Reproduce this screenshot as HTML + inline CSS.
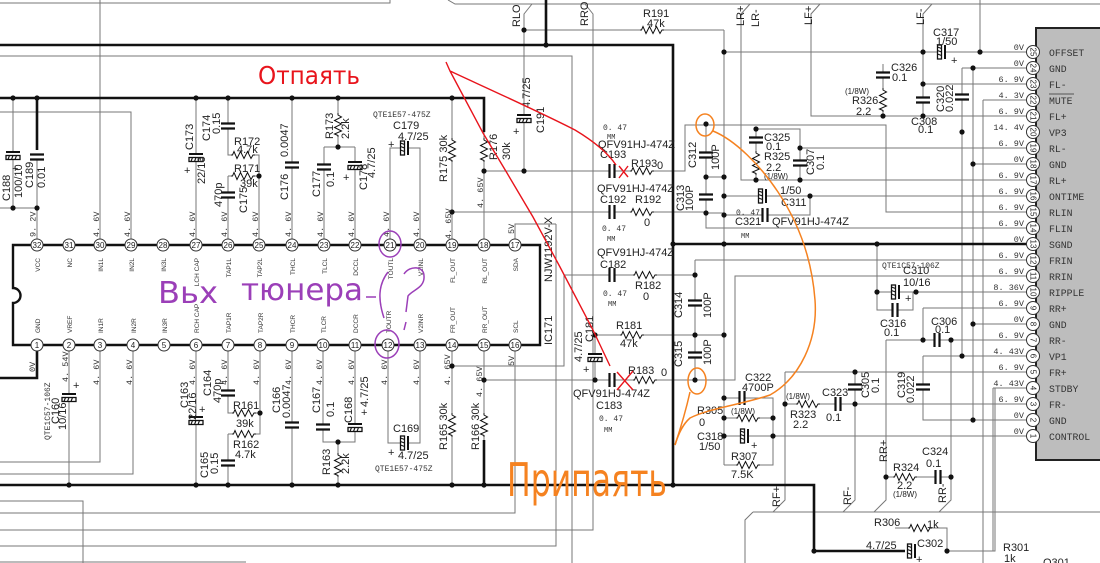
<!DOCTYPE html>
<html><head><meta charset="utf-8">
<style>
html,body{margin:0;padding:0;background:#fff;}
svg{display:block;}
.w{stroke:#777;stroke-width:1;fill:none}
.k{stroke:#111;stroke-width:2.6;fill:none}
.l{font:11px "Liberation Sans",sans-serif;fill:#222}
.m{font:8.5px "Liberation Mono",monospace;fill:#333}
.s{font:8px "Liberation Mono",monospace;fill:#333}
.p{font:6.5px "Liberation Sans",sans-serif;fill:#333}
.n{font:8px "Liberation Sans",sans-serif;fill:#222;text-anchor:middle}
.g{font:9.8px "Liberation Mono",monospace;fill:#333}
.v{font:8.5px "Liberation Mono",monospace;fill:#333;text-anchor:end}
.h{font-family:"DejaVu Sans ExtraLight","DejaVu Sans",sans-serif}
</style></head><body>
<svg width="1100" height="563" viewBox="0 0 1100 563" xmlns="http://www.w3.org/2000/svg">
<defs>
<g id="cv"><rect x="-8" y="-3" width="16" height="6" fill="#fff"/><path d="M-7 -2.5H7M-7 2.5H7" stroke="#111" stroke-width="2.2"/></g>
<g id="ev"><rect x="-8" y="-4" width="16" height="9" fill="#fff"/><path d="M-7 -3H7" stroke="#111" stroke-width="2"/><rect x="-7" y="0.5" width="14" height="4" fill="#fff" stroke="#111" stroke-width="1.3"/><path d="M-5 4.5L-3.5 0.5M-1.5 4.5L0 0.5M2 4.5L3.5 0.5" stroke="#111" stroke-width="1.1"/></g>
<g id="rv"><rect x="-4" y="-12" width="8" height="24" fill="#fff"/><polyline points="0,-12 0,-10 3.5,-8 -3.5,-4.5 3.5,-1 -3.5,2.5 3.5,6 -3.5,9 0,10.5 0,12" fill="none" stroke="#111" stroke-width="1"/></g>
<circle id="d" r="2.6" fill="#111"/>
</defs>
<rect width="1100" height="563" fill="#fff"/>

<path class="w" d="M0 3H390V0M448 0L455 4H1100M0 56H572V563M0 112H131V239M100 0V239M0 208H37M37 160V239M13 98V208
M196 98V239M228 98V155H259V239M228 176H259M228 176V239M292 98V239M338 98V147M324 147H355M324 147V239M355 147V239
M390 239V148H420V239M452 98V239M484 130V239M484 171H685V125H886V212H1027M532 4L524 14V171M524 30H724M724 30V465
M452 212H706M706 124V228H1027M706 177H724M706 213H724M724 196H1027M724 215H810V196M756 129H800V180M756 129V180
M750 4L741 14V180H1027M800 148H1027M820 4L811 14V116H1027M932 4L923 14V116M724 52H1027M923 84H1027M883 64V116
M980 0V52M962 68H1027M962 68V356M973 68V420M983 100H1027M983 100V563M973 164H1027M993 388H1027M993 388V551
M695 260V380M695 260H1027M452 366H564V275H695M484 380H695M695 380H735V276H1027M595 335V380M595 335H724
M877 244V310H913V292M877 292H1027M923 308H1027M923 308V340M886 340H1027M973 324H1027M923 356H1027M923 356V420H1027
M785 372H1027M785 372V500L773 512M855 372V500L843 512M886 340V500L874 512M951 340V500L939 512M785 404H1027
M724 398H773V436M724 418H773M724 436H1027M724 465H773V436M753 512H1100M753 512L745 520V563M886 477H951
M895 528H947V551M947 551H995V388M0 501H83V563M515 351V513H0M0 530H593V14L585 4M556 224V546H0M515 239V224H556M0 562H246
M69 351V485M100 351V462H0M133 351V474H0M196 351V485M228 351V413H260M260 351V434H228M228 434V485M292 351V485
M323 351V442H355V351M338 442V485M388 351V443H420V351M452 351V485M484 351V440"/>

<path class="k" d="M0 45H673V485M546 0V45M0 98H484V132M0 485H814V551H905M673 244H1027M37 98V150M37 351V378H0M484 440V485"/>

<path d="M13 245H540V345H13V303A7.5 7.5 0 0 0 13 288Z" fill="none" stroke="#111" stroke-width="2.4"/>

<rect x="1036" y="28" width="66" height="432" fill="#bdbdbd" stroke="#222" stroke-width="2"/>

<use href="#ev" transform="translate(13 155)"/>
<use href="#cv" transform="translate(37 157)"/>
<use href="#ev" transform="translate(196 157)"/>
<use href="#cv" transform="translate(228 126)"/>
<use href="#rv" transform="translate(243 155) rotate(90)"/>
<use href="#rv" transform="translate(243 176) rotate(90)"/>
<use href="#cv" transform="translate(228 195)"/>
<use href="#cv" transform="translate(292 165)"/>
<use href="#rv" transform="translate(338 125)"/>
<use href="#cv" transform="translate(324 167)"/>
<use href="#ev" transform="translate(355 165)"/>
<use href="#ev" transform="translate(405 148) rotate(90)"/>
<use href="#rv" transform="translate(452 150)"/>
<use href="#rv" transform="translate(484 150)"/>
<use href="#ev" transform="translate(524 118)"/>
<use href="#rv" transform="translate(652 30) rotate(90)"/>
<use href="#cv" transform="translate(612 171) rotate(90)"/>
<use href="#rv" transform="translate(642 171) rotate(90)"/>
<use href="#cv" transform="translate(612 212) rotate(90)"/>
<use href="#rv" transform="translate(642 212) rotate(90)"/>
<use href="#cv" transform="translate(612 275) rotate(90)"/>
<use href="#rv" transform="translate(645 275) rotate(90)"/>
<use href="#rv" transform="translate(632 335) rotate(90)"/>
<use href="#ev" transform="translate(595 357)"/>
<use href="#cv" transform="translate(612 380) rotate(90)"/>
<use href="#rv" transform="translate(645 380) rotate(90)"/>
<use href="#cv" transform="translate(706 155)"/>
<use href="#cv" transform="translate(706 197)"/>
<use href="#cv" transform="translate(695 303)"/>
<use href="#cv" transform="translate(695 355)"/>
<use href="#cv" transform="translate(756 140)"/>
<use href="#rv" transform="translate(756 163)"/>
<use href="#cv" transform="translate(800 163)"/>
<use href="#ev" transform="translate(763 196) rotate(90)"/>
<use href="#cv" transform="translate(765 215) rotate(90)"/>
<use href="#cv" transform="translate(883 75)"/>
<use href="#rv" transform="translate(883 100)"/>
<use href="#cv" transform="translate(923 100)"/>
<use href="#cv" transform="translate(962 97)"/>
<use href="#ev" transform="translate(942 52) rotate(90)"/>
<use href="#ev" transform="translate(896 292) rotate(90)"/>
<use href="#cv" transform="translate(895 310) rotate(90)"/>
<use href="#cv" transform="translate(937 340) rotate(90)"/>
<use href="#cv" transform="translate(923 387)"/>
<use href="#cv" transform="translate(855 387)"/>
<use href="#rv" transform="translate(808 404) rotate(90)"/>
<use href="#cv" transform="translate(838 404) rotate(90)"/>
<use href="#cv" transform="translate(742 398) rotate(90)"/>
<use href="#rv" transform="translate(748 418) rotate(90)"/>
<use href="#ev" transform="translate(745 436) rotate(90)"/>
<use href="#rv" transform="translate(748 465) rotate(90)"/>
<use href="#rv" transform="translate(905 477) rotate(90)"/>
<use href="#cv" transform="translate(938 477) rotate(90)"/>
<use href="#rv" transform="translate(920 528) rotate(90)"/>
<use href="#ev" transform="translate(912 551) rotate(90)"/>
<use href="#ev" transform="translate(69 397)"/>
<use href="#ev" transform="translate(196 420)"/>
<use href="#cv" transform="translate(228 393)"/>
<use href="#rv" transform="translate(244 413) rotate(90)"/>
<use href="#rv" transform="translate(244 434) rotate(90)"/>
<use href="#cv" transform="translate(228 463)"/>
<use href="#cv" transform="translate(292 425)"/>
<use href="#cv" transform="translate(323 427)"/>
<use href="#ev" transform="translate(355 427)"/>
<use href="#rv" transform="translate(338 465)"/>
<use href="#ev" transform="translate(405 443) rotate(90)"/>
<use href="#rv" transform="translate(452 425)"/>
<use href="#rv" transform="translate(484 425)"/>

<g>
<use href="#d" x="13" y="98"/><use href="#d" x="37" y="98"/><use href="#d" x="13" y="208"/><use href="#d" x="37" y="208"/>
<use href="#d" x="196" y="98"/><use href="#d" x="228" y="98"/><use href="#d" x="292" y="98"/><use href="#d" x="338" y="98"/>
<use href="#d" x="338" y="147"/><use href="#d" x="259" y="176"/><use href="#d" x="452" y="98"/><use href="#d" x="452" y="212"/>
<use href="#d" x="484" y="171"/><use href="#d" x="524" y="171"/><use href="#d" x="524" y="30"/><use href="#d" x="546" y="45"/>
<use href="#d" x="69" y="485"/><use href="#d" x="196" y="485"/><use href="#d" x="228" y="485"/><use href="#d" x="292" y="485"/>
<use href="#d" x="338" y="485"/><use href="#d" x="452" y="485"/><use href="#d" x="484" y="485"/><use href="#d" x="673" y="485"/>
<use href="#d" x="260" y="413"/><use href="#d" x="338" y="442"/><use href="#d" x="452" y="366"/><use href="#d" x="484" y="380"/>
<use href="#d" x="595" y="335"/><use href="#d" x="595" y="380"/><use href="#d" x="695" y="275"/><use href="#d" x="695" y="335"/>
<use href="#d" x="695" y="380"/><use href="#d" x="724" y="335"/><use href="#d" x="724" y="398"/><use href="#d" x="724" y="418"/>
<use href="#d" x="724" y="436"/><use href="#d" x="773" y="418"/><use href="#d" x="773" y="436"/>
<use href="#d" x="706" y="124"/><use href="#d" x="706" y="177"/><use href="#d" x="706" y="213"/><use href="#d" x="724" y="177"/>
<use href="#d" x="724" y="196"/><use href="#d" x="724" y="215"/><use href="#d" x="810" y="196"/><use href="#d" x="724" y="244"/>
<use href="#d" x="673" y="244"/><use href="#d" x="877" y="244"/><use href="#d" x="877" y="292"/><use href="#d" x="916" y="292"/>
<use href="#d" x="724" y="52"/><use href="#d" x="923" y="52"/><use href="#d" x="980" y="52"/><use href="#d" x="923" y="84"/>
<use href="#d" x="923" y="116"/><use href="#d" x="883" y="116"/><use href="#d" x="973" y="68"/><use href="#d" x="962" y="132"/>
<use href="#d" x="973" y="164"/><use href="#d" x="756" y="129"/><use href="#d" x="800" y="148"/><use href="#d" x="756" y="180"/>
<use href="#d" x="800" y="180"/><use href="#d" x="923" y="340"/><use href="#d" x="951" y="340"/><use href="#d" x="962" y="356"/>
<use href="#d" x="973" y="324"/><use href="#d" x="973" y="420"/><use href="#d" x="855" y="372"/><use href="#d" x="855" y="404"/>
<use href="#d" x="785" y="404"/><use href="#d" x="886" y="477"/><use href="#d" x="951" y="477"/><use href="#d" x="814" y="551"/>
<use href="#d" x="947" y="551"/>
</g>

<g fill="#fff" stroke="#333" stroke-width="1">
<circle cx="37" cy="245" r="6"/><circle cx="69" cy="245" r="6"/><circle cx="100" cy="245" r="6"/><circle cx="131" cy="245" r="6"/>
<circle cx="163" cy="245" r="6"/><circle cx="196" cy="245" r="6"/><circle cx="228" cy="245" r="6"/><circle cx="259" cy="245" r="6"/>
<circle cx="292" cy="245" r="6"/><circle cx="324" cy="245" r="6"/><circle cx="355" cy="245" r="6"/><circle cx="390" cy="245" r="6"/>
<circle cx="420" cy="245" r="6"/><circle cx="452" cy="245" r="6"/><circle cx="484" cy="245" r="6"/><circle cx="515" cy="245" r="6"/>
<circle cx="37" cy="345" r="6"/><circle cx="69" cy="345" r="6"/><circle cx="100" cy="345" r="6"/><circle cx="133" cy="345" r="6"/>
<circle cx="164" cy="345" r="6"/><circle cx="196" cy="345" r="6"/><circle cx="228" cy="345" r="6"/><circle cx="260" cy="345" r="6"/>
<circle cx="292" cy="345" r="6"/><circle cx="323" cy="345" r="6"/><circle cx="355" cy="345" r="6"/><circle cx="388" cy="345" r="6"/>
<circle cx="420" cy="345" r="6"/><circle cx="452" cy="345" r="6"/><circle cx="484" cy="345" r="6"/><circle cx="515" cy="345" r="6"/>
</g>
<g class="n">
<text x="37" y="248">32</text><text x="69" y="248">31</text><text x="100" y="248">30</text><text x="131" y="248">29</text>
<text x="163" y="248">28</text><text x="196" y="248">27</text><text x="228" y="248">26</text><text x="259" y="248">25</text>
<text x="292" y="248">24</text><text x="324" y="248">23</text><text x="355" y="248">22</text><text x="390" y="248">21</text>
<text x="420" y="248">20</text><text x="452" y="248">19</text><text x="484" y="248">18</text><text x="515" y="248">17</text>
<text x="37" y="348">1</text><text x="69" y="348">2</text><text x="100" y="348">3</text><text x="133" y="348">4</text>
<text x="164" y="348">5</text><text x="196" y="348">6</text><text x="228" y="348">7</text><text x="260" y="348">8</text>
<text x="292" y="348">9</text><text x="323" y="348">10</text><text x="355" y="348">11</text><text x="388" y="348">12</text>
<text x="420" y="348">13</text><text x="452" y="348">14</text><text x="484" y="348">15</text><text x="515" y="348">16</text>
</g>
<g class="p" text-anchor="end">
<text transform="translate(40 258) rotate(-90)">VCC</text><text transform="translate(72 258) rotate(-90)">NC</text>
<text transform="translate(103 258) rotate(-90)">IN1L</text><text transform="translate(134 258) rotate(-90)">IN2L</text>
<text transform="translate(166 258) rotate(-90)">IN3L</text><text transform="translate(199 258) rotate(-90)">LCH CAP</text>
<text transform="translate(231 258) rotate(-90)">TAP1L</text><text transform="translate(262 258) rotate(-90)">TAP2L</text>
<text transform="translate(295 258) rotate(-90)">THCL</text><text transform="translate(327 258) rotate(-90)">TLCL</text>
<text transform="translate(358 258) rotate(-90)">DCCL</text><text transform="translate(393 258) rotate(-90)">TOUTL</text>
<text transform="translate(423 258) rotate(-90)">V2INL</text><text transform="translate(455 258) rotate(-90)">FL_OUT</text>
<text transform="translate(487 258) rotate(-90)">RL_OUT</text><text transform="translate(518 258) rotate(-90)">SDA</text>
</g>
<g class="p">
<text transform="translate(40 333) rotate(-90)">GND</text><text transform="translate(72 333) rotate(-90)">VREF</text>
<text transform="translate(103 333) rotate(-90)">IN1R</text><text transform="translate(136 333) rotate(-90)">IN2R</text>
<text transform="translate(167 333) rotate(-90)">IN3R</text><text transform="translate(199 333) rotate(-90)">RCH CAP</text>
<text transform="translate(231 333) rotate(-90)">TAP1R</text><text transform="translate(263 333) rotate(-90)">TAP2R</text>
<text transform="translate(295 333) rotate(-90)">THCR</text><text transform="translate(326 333) rotate(-90)">TLCR</text>
<text transform="translate(358 333) rotate(-90)">DCCR</text><text transform="translate(391 333) rotate(-90)">TOUTR</text>
<text transform="translate(423 333) rotate(-90)">V2INR</text><text transform="translate(455 333) rotate(-90)">FR_OUT</text>
<text transform="translate(487 333) rotate(-90)">RR_OUT</text><text transform="translate(518 333) rotate(-90)">SCL</text>
</g>
<text class="l" transform="translate(552 345) rotate(-90)">IC171</text>
<text class="l" transform="translate(552 282) rotate(-90)">NJW1192V-X</text>

<g class="m">
<text transform="translate(35.5 237) rotate(-90)">9. 2V</text>
<text transform="translate(99 237) rotate(-90)">4. 6V</text>
<text transform="translate(130 237) rotate(-90)">4. 6V</text>
<text transform="translate(195 237) rotate(-90)">4. 6V</text>
<text transform="translate(227 237) rotate(-90)">4. 6V</text>
<text transform="translate(258 237) rotate(-90)">4. 6V</text>
<text transform="translate(291 237) rotate(-90)">4. 6V</text>
<text transform="translate(323 237) rotate(-90)">4. 6V</text>
<text transform="translate(354 237) rotate(-90)">4. 6V</text>
<text transform="translate(389 237) rotate(-90)">4. 6V</text>
<text transform="translate(419 237) rotate(-90)">4. 6V</text>
<text transform="translate(451 239) rotate(-90)">4. 65V</text>
<text transform="translate(483 208) rotate(-90)">4. 65V</text>
<text transform="translate(514 234) rotate(-90)">5V</text>
<text transform="translate(35 372) rotate(-90)">0V</text>
<text transform="translate(68 382) rotate(-90)">4. 54V</text>
<text transform="translate(99 385) rotate(-90)">4. 6V</text>
<text transform="translate(132 385) rotate(-90)">4. 6V</text>
<text transform="translate(195 385) rotate(-90)">4. 6V</text>
<text transform="translate(227 385) rotate(-90)">4. 6V</text>
<text transform="translate(259 385) rotate(-90)">4. 6V</text>
<text transform="translate(291 385) rotate(-90)">4. 6V</text>
<text transform="translate(322 385) rotate(-90)">4. 6V</text>
<text transform="translate(354 385) rotate(-90)">4. 6V</text>
<text transform="translate(387 385) rotate(-90)">4. 6V</text>
<text transform="translate(419 385) rotate(-90)">4. 6V</text>
<text transform="translate(450 385) rotate(-90)">4. 65V</text>
<text transform="translate(482 397) rotate(-90)">4. 65V</text>
<text transform="translate(514 366) rotate(-90)">5V</text>
</g>

<g class="l">
<text transform="translate(10 201) rotate(-90)">C188</text>
<text transform="translate(22 198) rotate(-90)">100/10</text>
<text x="12" y="172">+</text>
<text transform="translate(33 188) rotate(-90)">C189</text>
<text transform="translate(45 188) rotate(-90)">0.01</text>
<text transform="translate(193 150) rotate(-90)">C173</text>
<text transform="translate(205 184) rotate(-90)">22/16</text>
<text x="184" y="174">+</text>
<text transform="translate(210 141) rotate(-90)">C174</text>
<text transform="translate(220 134) rotate(-90)">0.15</text>
<text x="234" y="145">R172</text>
<text x="237" y="153">4.7k</text>
<text x="234" y="172">R171</text>
<text x="240" y="187">39k</text>
<text transform="translate(222 207) rotate(-90)">470p</text>
<text transform="translate(247 213) rotate(-90)">C175</text>
<text transform="translate(288 157) rotate(-90)">0.0047</text>
<text transform="translate(288 200) rotate(-90)">C176</text>
<text transform="translate(333 139) rotate(-90)">R173</text>
<text transform="translate(349 139) rotate(-90)">2.2k</text>
<text transform="translate(320 197) rotate(-90)">C177</text>
<text transform="translate(334 187) rotate(-90)">0.1</text>
<text transform="translate(367 190) rotate(-90)">C178</text>
<text transform="translate(375 178) rotate(-90)">4.7/25</text>
<text x="343" y="181">+</text>
<text x="393" y="129">C179</text>
<text x="398" y="140">4.7/25</text>
<text x="388" y="148">+</text>
<text transform="translate(447 182) rotate(-90)">R175 30k</text>
<text transform="translate(497 160) rotate(-90)">R176</text>
<text transform="translate(510 160) rotate(-90)">30k</text>
<text x="513" y="135">+</text>
<text transform="translate(530 108) rotate(-90)">4.7/25</text>
<text transform="translate(544 133) rotate(-90)">C191</text>
<text transform="translate(520 27) rotate(-90)">RLO</text>
<text transform="translate(588 26) rotate(-90)">RRO</text>
<text x="643" y="17">R191</text>
<text x="647" y="27">47k</text>
<text x="598" y="148">QFV91HJ-474Z</text>
<text x="600" y="158">C193</text>
<text x="631" y="167">R193</text>
<text x="657" y="169">0</text>
<text x="597" y="192">QFV91HJ-474Z</text>
<text x="600" y="203">C192</text>
<text x="635" y="203">R192</text>
<text x="644" y="226">0</text>
<text x="597" y="256">QFV91HJ-474Z</text>
<text x="600" y="268">C182</text>
<text x="635" y="289">R182</text>
<text x="643" y="300">0</text>
<text x="616" y="329">R181</text>
<text x="620" y="347">47k</text>
<text transform="translate(582 362) rotate(-90)">4.7/25</text>
<text transform="translate(593 342) rotate(-90)">C181</text>
<text x="583" y="373">+</text>
<text x="628" y="374">R183</text>
<text x="661" y="376">0</text>
<text x="573" y="397">QFV91HJ-474Z</text>
<text x="596" y="409">C183</text>
<text transform="translate(696 168) rotate(-90)">C312</text>
<text transform="translate(719 170) rotate(-90)">100P</text>
<text transform="translate(684 211) rotate(-90)">C313</text>
<text transform="translate(693 211) rotate(-90)">100P</text>
<text transform="translate(682 318) rotate(-90)">C314</text>
<text transform="translate(711 318) rotate(-90)">100P</text>
<text transform="translate(682 367) rotate(-90)">C315</text>
<text transform="translate(711 365) rotate(-90)">100P</text>
</g>
<g class="s">
<text x="603" y="130">0. 47</text><text x="607" y="139" font-size="7">MM</text>
<text x="602" y="231">0. 47</text><text x="607" y="241" font-size="7">MM</text>
<text x="603" y="296">0. 47</text><text x="608" y="306" font-size="7">MM</text>
<text x="599" y="421">0. 47</text><text x="604" y="432" font-size="7">MM</text>
<text x="373" y="117">QTE1E57-475Z</text>
<text x="375" y="471">QTE1E57-475Z</text>
<text transform="translate(50 440) rotate(-90)">QTE1C57-106Z</text>
</g>

<g class="l">
<text transform="translate(59 424) rotate(-90)">C160</text>
<text transform="translate(66 430) rotate(-90)">10/16</text>
<text x="73" y="389">+</text>
<text transform="translate(188 408) rotate(-90)">C163</text>
<text transform="translate(196 420) rotate(-90)">22/16</text>
<text x="199" y="413">+</text>
<text transform="translate(211 396) rotate(-90)">C164</text>
<text transform="translate(221 403) rotate(-90)">470p</text>
<text x="233" y="409">R161</text>
<text x="236" y="427">39k</text>
<text x="233" y="448">R162</text>
<text x="235" y="458">4.7k</text>
<text transform="translate(208 478) rotate(-90)">C165</text>
<text transform="translate(218 474) rotate(-90)">0.15</text>
<text transform="translate(280 413) rotate(-90)">C166</text>
<text transform="translate(290 418) rotate(-90)">0.0047</text>
<text transform="translate(320 413) rotate(-90)">C167</text>
<text transform="translate(334 417) rotate(-90)">0.1</text>
<text transform="translate(352 423) rotate(-90)">C168</text>
<text transform="translate(368 407) rotate(-90)">4.7/25</text>
<text x="361" y="416">+</text>
<text transform="translate(330 475) rotate(-90)">R163</text>
<text transform="translate(349 474) rotate(-90)">2.2k</text>
<text x="393" y="432">C169</text>
<text x="388" y="456">+</text>
<text x="398" y="459">4.7/25</text>
<text transform="translate(447 450) rotate(-90)">R165 30k</text>
<text transform="translate(479 450) rotate(-90)">R166 30k</text>
</g>

<g class="l">
<text x="764" y="141">C325</text>
<text x="766" y="150">0.1</text>
<text x="764" y="160">R325</text>
<text x="766" y="171">2.2</text>
<text x="764" y="179" font-size="8">(1/8W)</text>
<text transform="translate(814 175) rotate(-90)">C307</text>
<text transform="translate(824 170) rotate(-90)">0.1</text>
<text x="780" y="194">1/50</text>
<text x="781" y="206">C311</text>
<text x="735" y="225">C321</text>
<text x="772" y="225">QFV91HJ-474Z</text>
<text x="891" y="71">C326</text>
<text x="892" y="81">0.1</text>
<text x="845" y="94" font-size="8">(1/8W)</text>
<text x="852" y="104">R326</text>
<text x="856" y="115">2.2</text>
<text transform="translate(944 112) rotate(-90)">C320</text>
<text transform="translate(953 112) rotate(-90)">0.022</text>
<text x="911" y="125">C308</text>
<text x="918" y="133">0.1</text>
<text x="933" y="36">C317</text>
<text x="936" y="45">1/50</text>
<text x="951" y="64">+</text>
<text x="903" y="274">C310</text>
<text x="903" y="286">10/16</text>
<text x="905" y="302">+</text>
<text x="880" y="327">C316</text>
<text x="884" y="336">0.1</text>
<text x="931" y="325">C306</text>
<text x="935" y="333">0.1</text>
<text transform="translate(905 398) rotate(-90)">C319</text>
<text transform="translate(914 403) rotate(-90)">0.022</text>
<text transform="translate(869 398) rotate(-90)">C305</text>
<text transform="translate(879 393) rotate(-90)">0.1</text>
<text x="745" y="381">C322</text>
<text x="742" y="391">4700P</text>
<text x="786" y="399" font-size="8">(1/8W)</text>
<text x="790" y="418">R323</text>
<text x="793" y="428">2.2</text>
<text x="822" y="396">C323</text>
<text x="826" y="421">0.1</text>
<text x="697" y="414">R305</text>
<text x="699" y="426">0</text>
<text x="731" y="414" font-size="8">(1/8W)</text>
<text x="697" y="440">C318</text>
<text x="699" y="450">1/50</text>
<text x="751" y="449">+</text>
<text x="731" y="460">R307</text>
<text x="731" y="478">7.5K</text>
<text transform="translate(780 507) rotate(-90)">RF+</text>
<text transform="translate(851 505) rotate(-90)">RF-</text>
<text transform="translate(887 462) rotate(-90)">RR+</text>
<text transform="translate(946 503) rotate(-90)">RR-</text>
<text x="922" y="455">C324</text>
<text x="926" y="467">0.1</text>
<text x="893" y="471">R324</text>
<text x="897" y="489">2.2</text>
<text x="893" y="497" font-size="8">(1/8W)</text>
<text x="874" y="526">R306</text>
<text x="927" y="528">1k</text>
<text x="866" y="549">4.7/25</text>
<text x="917" y="547">C302</text>
<text x="916" y="563">+</text>
<text x="1003" y="551">R301</text>
<text x="1004" y="562">1k</text>
<text x="1043" y="566">Q301</text>
<text transform="translate(744 26) rotate(-90)">LR+</text>
<text transform="translate(759 27) rotate(-90)">LR-</text>
<text transform="translate(812 25) rotate(-90)">LF+</text>
<text transform="translate(924 25) rotate(-90)">LF-</text>
</g>
<g class="s">
<text x="736" y="215">0. 47</text>
<text x="741" y="238" font-size="7">MM</text>
<text x="882" y="268">QTE1C57-106Z</text>
</g>

<g fill="#fff" stroke="#333" stroke-width="1">
<circle cx="1033" cy="52" r="6.5"/><circle cx="1033" cy="68" r="6.5"/><circle cx="1033" cy="84" r="6.5"/><circle cx="1033" cy="100" r="6.5"/>
<circle cx="1033" cy="116" r="6.5"/><circle cx="1033" cy="132" r="6.5"/><circle cx="1033" cy="148" r="6.5"/><circle cx="1033" cy="164" r="6.5"/>
<circle cx="1033" cy="180" r="6.5"/><circle cx="1033" cy="196" r="6.5"/><circle cx="1033" cy="212" r="6.5"/><circle cx="1033" cy="228" r="6.5"/>
<circle cx="1033" cy="244" r="6.5"/><circle cx="1033" cy="260" r="6.5"/><circle cx="1033" cy="276" r="6.5"/><circle cx="1033" cy="292" r="6.5"/>
<circle cx="1033" cy="308" r="6.5"/><circle cx="1033" cy="324" r="6.5"/><circle cx="1033" cy="340" r="6.5"/><circle cx="1033" cy="356" r="6.5"/>
<circle cx="1033" cy="372" r="6.5"/><circle cx="1033" cy="388" r="6.5"/><circle cx="1033" cy="404" r="6.5"/><circle cx="1033" cy="420" r="6.5"/>
<circle cx="1033" cy="436" r="6.5"/>
</g>
<g class="n">
<text transform="translate(1030.5 52) rotate(90)">25</text><text transform="translate(1030.5 68) rotate(90)">24</text>
<text transform="translate(1030.5 84) rotate(90)">23</text><text transform="translate(1030.5 100) rotate(90)">22</text>
<text transform="translate(1030.5 116) rotate(90)">21</text><text transform="translate(1030.5 132) rotate(90)">20</text>
<text transform="translate(1030.5 148) rotate(90)">19</text><text transform="translate(1030.5 164) rotate(90)">18</text>
<text transform="translate(1030.5 180) rotate(90)">17</text><text transform="translate(1030.5 196) rotate(90)">16</text>
<text transform="translate(1030.5 212) rotate(90)">15</text><text transform="translate(1030.5 228) rotate(90)">14</text>
<text transform="translate(1030.5 244) rotate(90)">13</text><text transform="translate(1030.5 260) rotate(90)">12</text>
<text transform="translate(1030.5 276) rotate(90)">11</text><text transform="translate(1030.5 292) rotate(90)">10</text>
<text transform="translate(1030.5 308) rotate(90)">9</text><text transform="translate(1030.5 324) rotate(90)">8</text>
<text transform="translate(1030.5 340) rotate(90)">7</text><text transform="translate(1030.5 356) rotate(90)">6</text>
<text transform="translate(1030.5 372) rotate(90)">5</text><text transform="translate(1030.5 388) rotate(90)">4</text>
<text transform="translate(1030.5 404) rotate(90)">3</text><text transform="translate(1030.5 420) rotate(90)">2</text>
<text transform="translate(1030.5 436) rotate(90)">1</text>
</g>
<g class="g">
<text x="1049" y="56">OFFSET</text><text x="1049" y="72">GND</text><text x="1049" y="88">FL-</text><text x="1049" y="104">MUTE</text>
<text x="1049" y="120">FL+</text><text x="1049" y="136">VP3</text><text x="1049" y="152">RL-</text><text x="1049" y="168">GND</text>
<text x="1049" y="184">RL+</text><text x="1049" y="200">ONTIME</text><text x="1049" y="216">RLIN</text><text x="1049" y="232">FLIN</text>
<text x="1049" y="248">SGND</text><text x="1049" y="264">FRIN</text><text x="1049" y="280">RRIN</text><text x="1049" y="296">RIPPLE</text>
<text x="1049" y="312">RR+</text><text x="1049" y="328">GND</text><text x="1049" y="344">RR-</text><text x="1049" y="360">VP1</text>
<text x="1049" y="376">FR+</text><text x="1049" y="392">STDBY</text><text x="1049" y="408">FR-</text><text x="1049" y="424">GND</text>
<text x="1049" y="440">CONTROL</text>
</g>
<path d="M1049 94H1074" stroke="#333" stroke-width="0.8"/>
<g class="v">
<text x="1024" y="50">0V</text><text x="1024" y="66">0V</text><text x="1024" y="82">6. 9V</text><text x="1024" y="98">4. 3V</text>
<text x="1024" y="114">6. 9V</text><text x="1024" y="130">14. 4V</text><text x="1024" y="146">6. 9V</text><text x="1024" y="162">0V</text>
<text x="1024" y="178">6. 9V</text><text x="1024" y="194">6. 9V</text><text x="1024" y="210">6. 9V</text><text x="1024" y="226">6. 9V</text>
<text x="1024" y="242">0V</text><text x="1024" y="258">6. 9V</text><text x="1024" y="274">6. 9V</text><text x="1024" y="290">8. 36V</text>
<text x="1024" y="306">6. 9V</text><text x="1024" y="322">0V</text><text x="1024" y="338">6. 9V</text><text x="1024" y="354">4. 43V</text>
<text x="1024" y="370">6. 9V</text><text x="1024" y="386">4. 43V</text><text x="1024" y="402">6. 9V</text><text x="1024" y="418">0V</text>
<text x="1024" y="434">0V</text>
</g>

<text class="h" x="258" y="84" font-size="25" fill="#e8141c" textLength="102" lengthAdjust="spacingAndGlyphs">Отпаять</text>
<path d="M446 62L450 71C480 85 540 112 575 130C595 142 608 153 616 165M450 71L483 133L507 173L533 217L560 267L593 330L610 366" fill="none" stroke="#e8141c" stroke-width="1.4"/>
<path d="M619 166L628 177M628 166L619 178M617 372L633 390M633 371L617 390" stroke="#e8141c" stroke-width="1.4"/>

<text class="h" x="158" y="303" font-size="30" fill="#9b3fb8" textLength="60" lengthAdjust="spacingAndGlyphs">Вьх</text>
<text class="h" x="241" y="300" font-size="30" fill="#9b3fb8" textLength="122" lengthAdjust="spacingAndGlyphs">тюнера</text>
<g fill="none" stroke="#9b3fb8" stroke-width="1.5">
<ellipse cx="390" cy="244" rx="11" ry="13"/>
<ellipse cx="387" cy="344" rx="12" ry="14"/>
<path d="M366 297H376M388 272C378 285 378 300 384 318M404 274C410 265 424 266 424 276C425 288 412 290 408 296L406 312M406 322L404 330"/>
</g>

<text class="h" x="507" y="496" font-size="46" fill="#f58220" textLength="160" lengthAdjust="spacingAndGlyphs">Припаять</text>
<g fill="none" stroke="#f58220" stroke-width="1.5">
<ellipse cx="705" cy="125" rx="9" ry="11"/>
<path d="M713 131C735 140 760 165 778 192C800 225 812 260 815 300C818 340 800 378 770 395C740 405 710 408 690 418C682 425 678 435 675 445"/>
<ellipse cx="697" cy="381" rx="9" ry="13"/>
<path d="M690 392C686 410 680 430 675 445"/>
</g>
</svg>
</body></html>
